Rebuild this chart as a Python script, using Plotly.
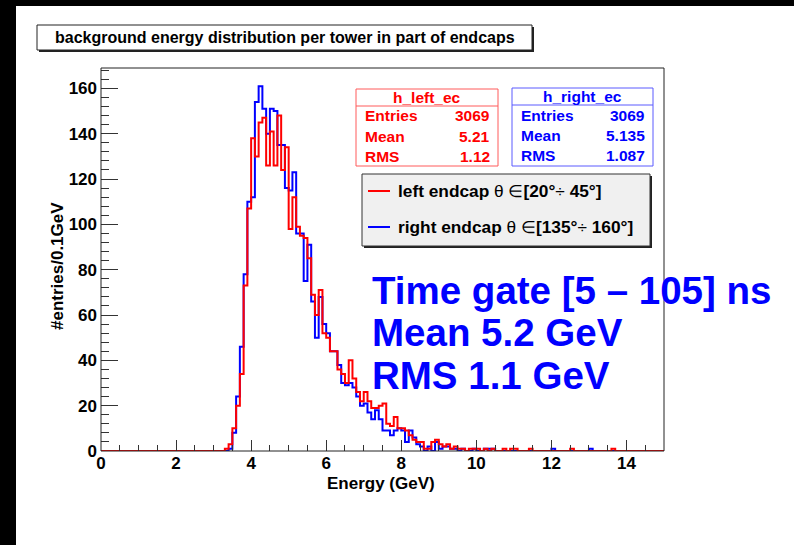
import plotly.graph_objects as go

# ---- histogram definition -------------------------------------------------
BIN_WIDTH = 0.1
X_MIN, X_MAX = 0.0, 15.0
Y_MAX = 169.0

# entries per 0.1 GeV bin, one row per GeV
left_ec_counts = [
    0, 0, 0, 0, 0, 0, 0, 0, 0, 0,            # 0.x
    0, 0, 0, 0, 0, 0, 0, 0, 0, 0,            # 1.x
    0, 0, 0, 0, 0, 0, 0, 0, 0, 0,            # 2.x
    0, 0, 0, 1, 3, 10, 20, 34, 73, 107,      # 3.x
    138, 130, 145, 147, 126, 141, 126, 148, 124, 134,  # 4.x
    98, 112, 99, 95, 94, 85, 69, 60, 71, 52,  # 5.x
    50, 44, 44, 36, 34, 30, 40, 32, 26, 22,   # 6.x
    26, 22, 19, 19, 20, 21, 12, 11, 15, 10,   # 7.x
    10, 9, 7, 5, 4, 4, 1, 1, 4, 5,            # 8.x
    3, 2, 3, 1, 2, 1, 1, 0, 1, 1,             # 9.x
    1, 0, 1, 0, 1, 0, 0, 1, 0, 1,             # 10.x
    1, 0, 0, 0, 1, 0, 0, 0, 0, 0,             # 11.x
    0, 0, 0, 0, 0, 1, 0, 0, 0, 0,             # 12.x
    0, 0, 0, 0, 0, 0, 1, 0, 0, 0,             # 13.x
    0, 0, 0, 0, 0, 0, 0, 0, 0, 0,             # 14.x
]

right_ec_counts = [
    0, 0, 0, 0, 0, 0, 0, 0, 0, 0,            # 0.x
    0, 0, 0, 0, 0, 0, 0, 0, 0, 0,            # 1.x
    0, 0, 0, 0, 0, 0, 0, 0, 0, 0,            # 2.x
    0, 0, 0, 0, 1, 8, 24, 46, 78, 110,       # 3.x
    112, 154, 161, 151, 140, 151, 150, 135, 135, 116,  # 4.x
    115, 123, 96, 96, 75, 91, 66, 50, 68, 56,  # 5.x
    52, 44, 44, 38, 30, 29, 30, 28, 24, 20,    # 6.x
    21, 17, 14, 18, 14, 9, 9, 7, 9, 10,        # 7.x
    9, 4, 9, 6, 3, 2, 0, 2, 0, 4,              # 8.x
    1, 2, 2, 1, 1, 0, 1, 0, 0, 1,              # 9.x
    0, 0, 1, 1, 1, 0, 0, 0, 0, 0,              # 10.x
    0, 0, 0, 0, 0, 0, 0, 0, 0, 0,              # 11.x
    1, 0, 0, 0, 0, 0, 0, 0, 0, 0,              # 12.x
    1, 0, 0, 0, 0, 0, 0, 0, 0, 0,              # 13.x
    0, 0, 0, 0, 0, 0, 0, 0, 0, 0,              # 14.x
]

stat_labels = ["Entries", "Mean", "RMS"]
left_stats = ["3069", "5.21", "1.12"]
right_stats = ["3069", "5.135", "1.087"]

x_tick_values = [0, 2, 4, 6, 8, 10, 12, 14]
y_tick_values = [0, 20, 40, 60, 80, 100, 120, 140, 160]

title_text = "background energy distribution per tower in part of endcaps"
legend_left = "<b>left endcap </b>θ ∈<b>[20°</b>÷<b> 45°]</b>"
legend_right = "<b>right endcap </b>θ ∈<b>[135°</b>÷<b> 160°]</b>"
info_lines = ["Time gate [5 – 105] ns", "Mean 5.2 GeV", "RMS 1.1 GeV"]

# ---- page geometry (pixels) ----------------------------------------------
W, H = 794, 545
PL, PR, PT, PB = 101, 664, 68, 451          # plot frame
FONT = "Liberation Sans, Arial, Helvetica, sans-serif"


def px(x):
    return (x - PL) / (PR - PL)


def py(y):
    return (PB - y) / (PB - PT)


def step_xy(counts):
    edges = [round(X_MIN + i * BIN_WIDTH, 3) for i in range(len(counts) + 1)]
    return edges, list(counts) + [counts[-1]]


fig = go.Figure()

xb, yb = step_xy(right_ec_counts)
fig.add_trace(go.Scatter(x=xb, y=yb, mode="lines", line=dict(color="#0000ff", width=2, shape="hv"),
                         name="h_right_ec", showlegend=False, hoverinfo="skip"))
xr, yr = step_xy(left_ec_counts)
fig.add_trace(go.Scatter(x=xr, y=yr, mode="lines", line=dict(color="#ff0000", width=2, shape="hv"),
                         name="h_left_ec", showlegend=False, hoverinfo="skip"))

shapes = []
annotations = []

# black edge of the canvas
shapes.append(dict(type="rect", xref="paper", yref="paper", x0=px(0), x1=px(16), y0=py(H), y1=py(0),
                   fillcolor="black", line=dict(width=0), layer="above"))
shapes.append(dict(type="rect", xref="paper", yref="paper", x0=px(0), x1=px(W), y0=py(6), y1=py(0),
                   fillcolor="black", line=dict(width=0), layer="above"))

# frame around the plot area
shapes.append(dict(type="rect", xref="paper", yref="paper", x0=0, x1=1, y0=0, y1=1,
                   line=dict(color="#222222", width=1), fillcolor="rgba(0,0,0,0)", layer="above"))

# title box with shadow
shapes.append(dict(type="rect", xref="paper", yref="paper", x0=px(39), x1=px(534), y0=py(52), y1=py(27),
                   fillcolor="#222222", line=dict(width=0)))
shapes.append(dict(type="rect", xref="paper", yref="paper", x0=px(37), x1=px(532), y0=py(50), y1=py(25),
                   fillcolor="white", line=dict(color="#222222", width=1)))
annotations.append(dict(xref="paper", yref="paper", x=px(284.5), y=py(37.5), text="<b>" + title_text + "</b>",
                        showarrow=False, xanchor="center", yanchor="middle",
                        font=dict(family=FONT, size=16, color="black")))


def stats_box(x0, x1, y0, y1, header_y, name, values, color, line_color):
    shapes.append(dict(type="rect", xref="paper", yref="paper", x0=px(x0), x1=px(x1), y0=py(y1), y1=py(y0),
                       fillcolor="white", line=dict(color=line_color, width=1)))
    shapes.append(dict(type="line", xref="paper", yref="paper", x0=px(x0), x1=px(x1), y0=py(header_y),
                       y1=py(header_y), line=dict(color=line_color, width=1)))
    annotations.append(dict(xref="paper", yref="paper", x=px((x0 + x1) / 2), y=py((y0 + header_y) / 2),
                            text="<b>" + name + "</b>", showarrow=False, xanchor="center", yanchor="middle",
                            font=dict(family=FONT, size=15.5, color=color)))
    row_h = (y1 - header_y) / len(values)
    for i, (lab, val) in enumerate(zip(stat_labels, values)):
        yc = header_y + row_h * (i + 0.5)
        annotations.append(dict(xref="paper", yref="paper", x=px(x0 + 7), y=py(yc), text="<b>" + lab + "</b>",
                                showarrow=False, xanchor="left", yanchor="middle",
                                font=dict(family=FONT, size=15.5, color=color)))
        annotations.append(dict(xref="paper", yref="paper", x=px(x1 - 6), y=py(yc), text="<b>" + val + "</b>",
                                showarrow=False, xanchor="right", yanchor="middle",
                                font=dict(family=FONT, size=15.5, color=color)))


stats_box(356, 498, 89, 166, 106, "h_left_ec", left_stats, "#ff0000", "#ff5a5a")
stats_box(512, 653, 88, 166, 105, "h_right_ec", right_stats, "#0000ff", "#5a5aff")

# legend box with shadow
shapes.append(dict(type="rect", xref="paper", yref="paper", x0=px(364), x1=px(652), y0=py(248), y1=py(176),
                   fillcolor="#222222", line=dict(width=0)))
shapes.append(dict(type="rect", xref="paper", yref="paper", x0=px(362), x1=px(650), y0=py(246), y1=py(174),
                   fillcolor="#f0f0f0", line=dict(color="#333333", width=1)))
for yc, color, txt in [(191, "#ff0000", legend_left), (227, "#0000ff", legend_right)]:
    shapes.append(dict(type="line", xref="paper", yref="paper", x0=px(368), x1=px(390), y0=py(yc), y1=py(yc),
                       line=dict(color=color, width=2)))
    annotations.append(dict(xref="paper", yref="paper", x=px(396), y=py(yc), text=txt, showarrow=False,
                            xanchor="left", yanchor="middle",
                            font=dict(family=FONT, size=17.3, color="black")))

# large summary text
for i, line in enumerate(info_lines):
    annotations.append(dict(xref="paper", yref="paper", x=px(370), y=py(290 + 42.5 * i), text="<b>" + line + "</b>",
                            showarrow=False, xanchor="left", yanchor="middle",
                            font=dict(family=FONT, size=38.5, color="#0000ff")))

# y-axis title
annotations.append(dict(xref="paper", yref="paper", x=px(57), y=py(266), text="<b>#entries/0.1GeV</b>",
                        showarrow=False, textangle=-90, xanchor="center", yanchor="middle",
                        font=dict(family=FONT, size=17, color="black")))
# x-axis title
annotations.append(dict(xref="paper", yref="paper", x=px(381), y=py(483), text="<b>Energy (GeV)</b>",
                        showarrow=False, xanchor="center", yanchor="middle",
                        font=dict(family=FONT, size=17, color="black")))

fig.update_layout(
    width=W, height=H, autosize=False,
    margin=dict(l=PL, r=W - PR, t=PT, b=H - PB, pad=0),
    paper_bgcolor="white", plot_bgcolor="white",
    shapes=shapes, annotations=annotations,
    showlegend=False,
    xaxis=dict(range=[X_MIN, X_MAX], tickmode="array", tickvals=x_tick_values,
               ticktext=[str(v) for v in x_tick_values],
               ticks="inside", ticklen=11, tickwidth=1, tickcolor="#333333",
               minor=dict(dtick=0.5, tick0=0, ticks="inside", ticklen=6, tickcolor="#333333", showgrid=False),
               showgrid=False, zeroline=False, showline=False, mirror=False,
               tickfont=dict(family=FONT, size=17, color="black", weight="bold"),
               ticklabelstandoff=0, fixedrange=True),
    yaxis=dict(range=[0, Y_MAX], tickmode="array", tickvals=y_tick_values,
               ticktext=[str(v) for v in y_tick_values],
               ticks="inside", ticklen=17, tickwidth=1, tickcolor="#333333",
               minor=dict(dtick=4, tick0=0, ticks="inside", ticklen=8, tickcolor="#333333", showgrid=False),
               showgrid=False, zeroline=False, showline=False,
               tickfont=dict(family=FONT, size=17, color="black", weight="bold"),
               ticklabelstandoff=3, fixedrange=True),
)

fig.write_html("out.html", config={"displayModeBar": False})
